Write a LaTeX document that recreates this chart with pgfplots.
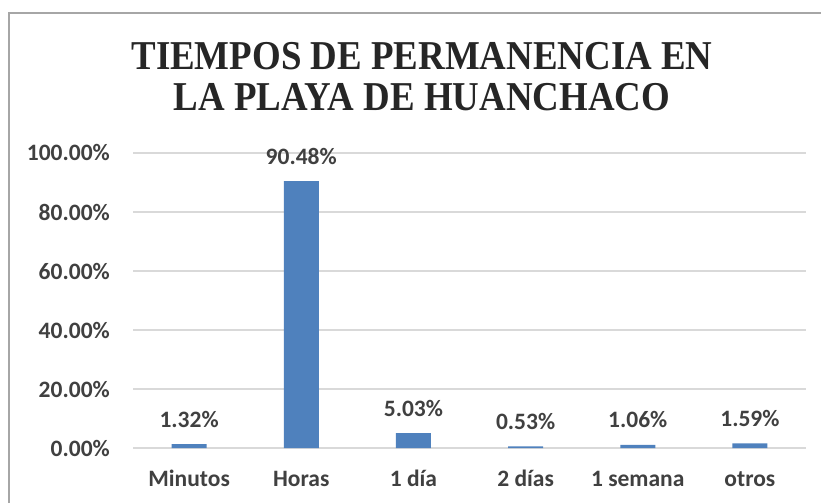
\documentclass[border=0pt]{standalone}
\usepackage{fontspec}
\setmainfont{Carlito}
\newfontfamily\titlefont[FakeStretch=0.9]{Liberation Serif}
\usepackage{pgfplots}
\pgfplotsset{compat=1.18}
\definecolor{barblue}{HTML}{4F81BD}
\definecolor{txt}{HTML}{404040}
\definecolor{gridc}{HTML}{D9D9D9}
\definecolor{framec}{HTML}{A6A6A6}
\begin{document}
\begin{tikzpicture}
\useasboundingbox (0,0) rectangle (821pt,503pt);
\draw[framec, line width=1.5pt] (9pt,0pt) -- (9pt,490pt) -- (821pt,490pt);
\node[anchor=base, inner sep=0pt, text=black!85] at (422pt,433pt) {\titlefont\fontsize{41}{41}\selectfont\bfseries TIEMPOS DE PERMANENCIA EN};
\node[anchor=base, inner sep=0pt, text=black!85] at (422pt,392pt) {\titlefont\fontsize{41}{41}\selectfont\bfseries LA PLAYA DE HUANCHACO};
\begin{axis}[
  at={(133pt,55pt)}, anchor=south west,
  scale only axis,
  width=673pt, height=295pt,
  xmin=-0.5, xmax=5.5,
  ymin=0, ymax=100,
  xtick={0,1,2,3,4,5},
  xticklabels={Minutos,Horas,1 día,2 días,1 semana,otros},
  ytick={0,20,40,60,80,100},
  yticklabels={0.00\%,20.00\%,40.00\%,60.00\%,80.00\%,100.00\%},
  axis line style={draw=none},
  major tick length=0pt,
  ymajorgrids,
  grid style={gridc, line width=1.3pt},
  tick label style={font=\fontsize{23.5}{28}\selectfont\bfseries, text=txt, inner sep=0pt},
  yticklabel style={anchor=east, xshift=-23pt},
  xticklabel style={anchor=base, yshift=-38pt},
  /pgf/number format/assume math mode=true,
  nodes near coords={\pgfmathprintnumber[fixed,fixed zerofill,precision=2,assume math mode=true]{\pgfplotspointmeta}\%},
  every node near coord/.append style={anchor=base, yshift=17pt, inner sep=0pt, text=txt, font=\fontsize{23.5}{28}\selectfont\bfseries},
  clip=false,
]
\addplot[ybar, bar width=35pt, fill=barblue, draw=none] coordinates {
(0,1.32) (1,90.48) (2,5.03) (3,0.53) (4,1.06) (5,1.59)
};
\end{axis}
\end{tikzpicture}
\end{document}
